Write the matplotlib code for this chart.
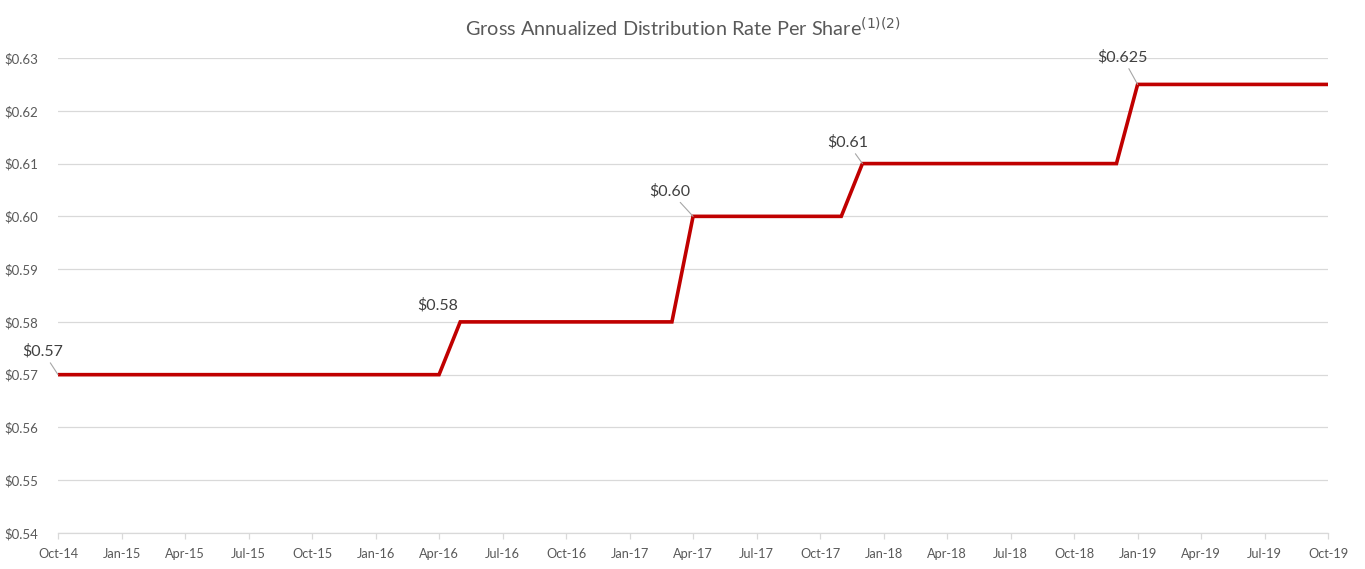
import matplotlib.pyplot as plt

# month index from Oct-14 (0) to Oct-19 (60)
months = [0, 18, 19, 29, 30, 37, 38, 50, 51, 60]
rates = [0.57, 0.57, 0.58, 0.58, 0.60, 0.60, 0.61, 0.61, 0.625, 0.625]

tick_labels = ["Oct-14", "Jan-15", "Apr-15", "Jul-15", "Oct-15", "Jan-16", "Apr-16",
               "Jul-16", "Oct-16", "Jan-17", "Apr-17", "Jul-17", "Oct-17", "Jan-18",
               "Apr-18", "Jul-18", "Oct-18", "Jan-19", "Apr-19", "Jul-19", "Oct-19"]
y_ticks = [0.54, 0.55, 0.56, 0.57, 0.58, 0.59, 0.60, 0.61, 0.62, 0.63]

# (month, value, label, pixel offset, draw leader)
labels = [
    (0, 0.57, "$0.57", (-15, 23), True),
    (19, 0.58, "$0.58", (-23, 17), False),
    (30, 0.60, "$0.60", (-23, 25), True),
    (38, 0.61, "$0.61", (-15, 21), True),
    (51, 0.625, "$0.625", (-15, 27), True),
]


def main():
    plt.rcParams["font.family"] = ["Lato", "DejaVu Sans"]
    fig = plt.figure(figsize=(13.65, 5.69), dpi=100)
    ax = fig.add_axes([0.0425, 0.0633, 0.9305, 0.8347])

    ax.plot(months, rates, color="#C00000", lw=2.6, solid_joinstyle="miter", zorder=3)

    ax.set_xlim(0, 60)
    ax.set_ylim(0.54, 0.63)
    ax.set_xticks(range(0, 61, 3))
    ax.set_xticklabels(tick_labels)
    ax.set_yticks(y_ticks)
    ax.set_yticklabels([f"${v:.2f}" for v in y_ticks])
    ax.grid(axis="y", color="#D9D9D9", lw=0.9)
    ax.set_axisbelow(True)

    for side in ["top", "right", "left"]:
        ax.spines[side].set_visible(False)
    ax.spines["bottom"].set_color("#D9D9D9")
    ax.spines["bottom"].set_linewidth(0.9)
    ax.tick_params(axis="x", colors="#D9D9D9", length=4, width=0.9, labelcolor="#595959",
                   labelsize=9.2, pad=7)
    ax.tick_params(axis="y", length=0, labelcolor="#595959", labelsize=9.5, pad=4)
    for t in ax.get_yticklabels():
        t.set_horizontalalignment("left")
        t.set_x(-0.0375)

    for m, v, text, off, leader in labels:
        ax.annotate(text, xy=(m, v), xytext=off, textcoords="offset pixels",
                    ha="center", va="center", fontsize=11.5, color="#404040",
                    annotation_clip=False,
                    arrowprops=dict(arrowstyle="-", color="#A6A6A6", lw=0.8,
                                    shrinkA=1, shrinkB=0) if leader else None)

    fig.text(0.5, 0.951, "Gross Annualized Distribution Rate Per Share$^{(1)(2)}$",
             ha="center", va="center", fontsize=14.3, color="#595959")

    fig.savefig("out.png", dpi=100)


if __name__ == "__main__":
    main()
